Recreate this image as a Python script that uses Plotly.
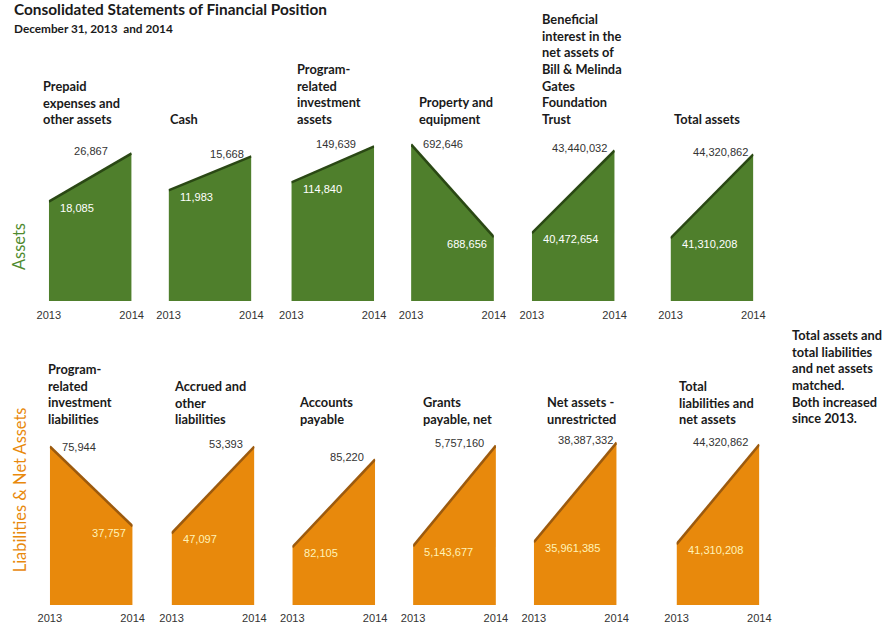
import plotly.graph_objects as go

# ---- data -------------------------------------------------------------
years = [2013, 2014]

asset_titles = [
    "Prepaid<br>expenses and<br>other assets",
    "Cash",
    "Program-<br>related<br>investment<br>assets",
    "Property and<br>equipment",
    "Beneficial<br>interest in the<br>net assets of<br>Bill & Melinda<br>Gates<br>Foundation<br>Trust",
    "Total assets",
]
assets_2013 = [18085, 11983, 114840, 692646, 40472654, 41310208]
assets_2014 = [26867, 15668, 149639, 688656, 43440032, 44320862]

liab_titles = [
    "Program-<br>related<br>investment<br>liabilities",
    "Accrued and<br>other<br>liabilities",
    "Accounts<br>payable",
    "Grants<br>payable, net",
    "Net assets -<br>unrestricted",
    "Total<br>liabilities and<br>net assets",
]
liab_2013 = [75944, 47097, 82105, 5143677, 35961385, 41310208]
liab_2014 = [37757, 53393, 85220, 5757160, 38387332, 44320862]

note_text = ("Total assets and<br>total liabilities<br>and net assets<br>"
             "matched.<br>Both increased<br>since 2013.")

# ---- layout / style ---------------------------------------------------
W, H = 889, 624
# positions below are given in on-screen pixels and converted to figure
# coordinates here (the page is displayed slightly shrunk and inset)
SX, OX = 0.975, 11.1
SY, OY = 0.987, -1.9


def fx(x):
    """on-screen x pixel -> paper x"""
    return (x - OX) / SX / W


def fy(y):
    """on-screen y pixel (from top) -> paper y"""
    return 1 - (y - OY) / SY / H


def fs(size):
    """on-screen size -> figure size"""
    return size / SX


TITLE_FONT = "Lato"
VALUE_FONT = "Liberation Sans"

GREEN_FILL, GREEN_LINE = "#4F7F2C", "#2A4814"
ORANGE_FILL, ORANGE_LINE = "#E8890C", "#9C5A0E"

# per-row panel geometry (on-screen pixels): left edges, width, bottom, top
rows = [
    dict(lefts=[48, 168, 291, 411, 532, 671], width=83, bottom=300, top=140,
         # value-axis ranges for each panel (floor, ceiling)
         ranges=[(0, 29045), (0, 17289), (0, 154466),
                 (685910, 692775), (38041549, 43761796), (39052218, 44786796)],
         v13=assets_2013, v14=assets_2014, titles=asset_titles,
         fill=GREEN_FILL, line=GREEN_LINE, inner="#FFFFFF",
         title_x=[40, 167, 295, 417, 540, 672], title_bottom=127,
         label_dx=[-21, -5, -16, -6, -6, -3], ticklen=4),
    dict(lefts=[49, 171, 292, 413, 534, 677], width=83, bottom=605, top=440,
         ranges=[(0, 78809), (41886, 53827), (80052, 85893),
                 (4785306, 5787530), (34433038, 38435852), (39473709, 44441282)],
         v13=liab_2013, v14=liab_2014, titles=liab_titles,
         fill=ORANGE_FILL, line=ORANGE_LINE, inner="#FFF3B8",
         title_x=[45, 171, 297, 421, 545, 677], title_bottom=428,
         label_dx=[-9, -9, -9, -10, -2, -9], ticklen=2.5),
]

VAL_SIZE = fs(10.8)
fig = go.Figure()
annotations = []
n = 0
for r in rows:
    for i in range(6):
        n += 1
        xa = "xaxis" if n == 1 else f"xaxis{n}"
        ya = "yaxis" if n == 1 else f"yaxis{n}"
        xr = "x" if n == 1 else f"x{n}"
        yr = "y" if n == 1 else f"y{n}"
        left = r["lefts"][i]
        a, b = r["v13"][i], r["v14"][i]

        fig.add_trace(go.Scatter(
            x=years, y=[a, b], xaxis=xr, yaxis=yr,
            mode="lines", fill="tozeroy", fillcolor=r["fill"],
            line=dict(color=r["line"], width=fs(2.5)), hoverinfo="skip",
            showlegend=False))

        fig.layout[xa] = dict(
            domain=[fx(left), fx(left + r["width"])],
            range=[2013, 2014], tickvals=years, ticktext=[str(y) for y in years],
            ticks="outside", ticklen=r["ticklen"],
            tickcolor="rgba(0,0,0,0)",
            showgrid=False, zeroline=False, showline=False,
            tickfont=dict(family=VALUE_FONT, size=VAL_SIZE, color="#333333"),
            anchor=yr, fixedrange=True)
        fig.layout[ya] = dict(
            domain=[fy(r["bottom"]), fy(r["top"])],
            range=list(r["ranges"][i]), visible=False, anchor=xr,
            fixedrange=True)

        hi_val, lo_val = max(a, b), min(a, b)
        # larger value: dark label beside the upper corner;
        # smaller value: light label inside the fill
        if b >= a:
            annotations.append(dict(
                x=2014, y=hi_val, xref=xr, yref=yr, text=f"{hi_val:,}",
                xanchor="right", yanchor="middle",
                xshift=fs(r["label_dx"][i]), yshift=fs(2), showarrow=False,
                font=dict(family=VALUE_FONT, size=VAL_SIZE, color="#333333")))
            annotations.append(dict(
                x=2013, y=lo_val, xref=xr, yref=yr, text=f"{lo_val:,}",
                xanchor="left", yanchor="middle", xshift=fs(9), yshift=fs(-6),
                showarrow=False,
                font=dict(family=VALUE_FONT, size=VAL_SIZE, color=r["inner"])))
        else:
            annotations.append(dict(
                x=2013, y=hi_val, xref=xr, yref=yr, text=f"{hi_val:,}",
                xanchor="left", yanchor="middle", xshift=fs(10), yshift=0,
                showarrow=False,
                font=dict(family=VALUE_FONT, size=VAL_SIZE, color="#333333")))
            annotations.append(dict(
                x=2014, y=lo_val, xref=xr, yref=yr, text=f"{lo_val:,}",
                xanchor="right", yanchor="middle", xshift=fs(-5), yshift=fs(-7),
                showarrow=False,
                font=dict(family=VALUE_FONT, size=VAL_SIZE, color=r["inner"])))

        # panel heading, bottom-aligned above the panel
        annotations.append(dict(
            x=fx(r["title_x"][i]), y=fy(r["title_bottom"]),
            xref="paper", yref="paper", text=f"<b>{r['titles'][i]}</b>",
            xanchor="left", yanchor="bottom", align="left", showarrow=False,
            font=dict(family=TITLE_FONT, size=fs(12.5), color="#1A1A1A")))

# chart heading
annotations.append(dict(
    x=0, y=1, xref="paper", yref="paper", yshift=2,
    text="<b>Consolidated Statements of Financial Position</b>",
    xanchor="left", yanchor="top", showarrow=False,
    font=dict(family=TITLE_FONT, size=fs(15), color="#1A1A1A")))
annotations.append(dict(
    x=0, y=fy(17), xref="paper", yref="paper",
    text="<b>December 31, 2013  and 2014</b>",
    xanchor="left", yanchor="top", showarrow=False,
    font=dict(family=TITLE_FONT, size=fs(11.5), color="#1A1A1A")))

# row labels
annotations.append(dict(
    x=fx(17), y=fy(245), xref="paper", yref="paper", text="Assets",
    textangle=-90, xanchor="center", yanchor="middle", showarrow=False,
    font=dict(family=TITLE_FONT, size=fs(16), color="#4E8A2E")))
annotations.append(dict(
    x=fx(19), y=fy(489), xref="paper", yref="paper",
    text="Liabilities & Net Assets",
    textangle=-90, xanchor="center", yanchor="middle", showarrow=False,
    font=dict(family=TITLE_FONT, size=fs(16), color="#E8890C")))

# side note
annotations.append(dict(
    x=fx(791), y=fy(324), xref="paper", yref="paper",
    text=f"<b>{note_text}</b>", xanchor="left", yanchor="top", align="left",
    showarrow=False,
    font=dict(family=TITLE_FONT, size=fs(12.5), color="#1A1A1A")))

fig.update_layout(
    width=W, height=H, margin=dict(l=0, r=0, t=0, b=0),
    paper_bgcolor="white", plot_bgcolor="white",
    annotations=annotations, showlegend=False)

fig.write_html("out.html")
